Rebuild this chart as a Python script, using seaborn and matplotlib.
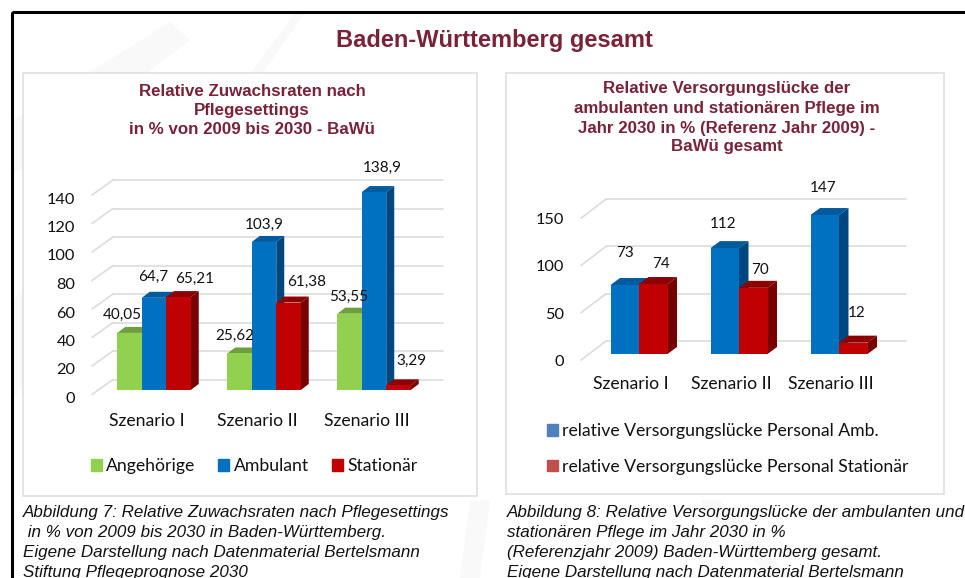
"""Baden-Wuerttemberg care charts: two pseudo-3D bar panels with captions."""
import matplotlib.pyplot as plt
import pandas as pd
import seaborn as sns
from matplotlib.patches import Patch, Polygon, Rectangle
from matplotlib.transforms import Affine2D

W, H = 965, 578

scenarios = ["Szenario I", "Szenario II", "Szenario III"]

angehoerige = [40.05, 25.62, 53.55]
ambulant = [64.7, 103.9, 138.9]
stationaer = [65.21, 61.38, 3.29]
left_ticks = [0, 20, 40, 60, 80, 100, 120, 140]

luecke_amb = [73, 112, 147]
luecke_stat = [74, 70, 12]
right_ticks = [0, 50, 100, 150]

MAROON = "#7A2238"
GREEN, BLUE, RED = "#92D050", "#0070C0", "#C00000"
SHADE = {
    GREEN: ("#6F9E3C", "#6F9E3C"),
    BLUE: ("#005A9E", "#00477F"),
    RED: ("#8E0000", "#780000"),
}
GRID = "#DCDCDC"
LABEL_SIZE = 12.7

sns.set_theme(style="white")
plt.rcParams["font.family"] = ["Lato", "DejaVu Sans"]
ARIAL = ["Liberation Sans", "DejaVu Sans"]

fig = plt.figure(figsize=(W / 100, H / 100), dpi=100)

bg = fig.add_axes([0, 0, 1, 1], zorder=-1)
bg.set_xlim(0, W)
bg.set_ylim(H, 0)
bg.axis("off")


def bars_3d(pos, df, hue_order, colors, ylim, ticks, depth, wall, width, label_off, pads):
    """Seaborn bars plus side/top faces, walls and labels. pos is x0, x1, ybottom, ytop in px."""
    x0, x1, yb, yt = pos
    ax = fig.add_axes([x0 / W, 1 - yb / H, (x1 - x0) / W, (yb - yt) / H])
    ax.patch.set_visible(False)
    sns.barplot(data=df, x="szenario", y="wert", hue="reihe", hue_order=hue_order,
                palette=colors, width=width, gap=0, saturation=1, legend=False,
                linewidth=0, ax=ax)
    ax.set_xlim(-0.5, 2.5)
    ax.set_ylim(*ylim)
    ax.set_xlabel("")
    ax.set_ylabel("")
    sns.despine(ax=ax, left=True, bottom=True)

    # back wall lines and the slanted piece on the left
    dl, dr, up, down = wall
    back = ax.transData + Affine2D().translate(dr, up)
    for v in ticks:
        ax.plot([-0.5, 2.5], [v, v], color=GRID, lw=1.2, transform=back,
                clip_on=False, zorder=0.5)
        ypx = H - yb + v / ylim[1] * (yb - yt)
        ax.plot([x0 - dl, x0 + dr], [ypx - down, ypx + up], color=GRID, lw=1.2,
                transform=Affine2D(), clip_on=False, zorder=0.5)

    # depth faces
    ddx = depth[0] / ((x1 - x0) / 3)
    ddy = depth[1] / ((yb - yt) / (ylim[1] - ylim[0]))
    z = 2
    for i in range(3):
        for cont, col in zip(ax.containers, colors):
            bar = cont[i]
            a, b = bar.get_x(), bar.get_x() + bar.get_width()
            h = bar.get_height()
            top, side = SHADE[col]
            ax.add_patch(Polygon([(a, h), (b, h), (b + ddx, h + ddy), (a + ddx, h + ddy)],
                                 color=top, lw=0, clip_on=False, zorder=z))
            ax.add_patch(Polygon([(b, 0), (b + ddx, ddy), (b + ddx, h + ddy), (b, h)],
                                 color=side, lw=0, clip_on=False, zorder=z))
            bar.set_zorder(z + 0.5)
            z += 1

    # value labels sit off the bars, as in the original
    k = 0
    for cont in ax.containers:
        for bar in cont:
            h = bar.get_height()
            txt = f"{h:g}".replace(".", ",")
            ax.annotate(txt, (bar.get_x() + bar.get_width() / 2, h), xytext=label_off[k],
                        textcoords="offset pixels", ha="center", va="center",
                        fontsize=11, color="#111111", annotation_clip=False, zorder=50)
            k += 1

    ax.set_yticks(ticks)
    ax.set_yticklabels([str(t) for t in ticks], fontsize=11.8, color="#111111")
    ax.set_xticks(range(3))
    ax.set_xticklabels(scenarios, fontsize=LABEL_SIZE, color="#111111")
    ax.tick_params(axis="y", length=0, pad=pads[0])
    ax.tick_params(axis="x", length=0, pad=pads[1])
    for lab in ax.get_yticklabels():
        lab.set_transform(lab.get_transform() + Affine2D().translate(0, pads[2]))
    for lab in ax.get_xticklabels():
        lab.set_transform(lab.get_transform() + Affine2D().translate(pads[3], 0))
    return ax


# faint watermark strokes in the page background
for pts in ([(13, 120), (13, 175), (60, 140), (190, 40), (170, 22)],
            [(250, 73), (262, 73), (305, 13), (295, 13)],
            [(13, 300), (13, 400), (23, 385), (23, 290)],
            [(470, 500), (490, 500), (480, 578), (460, 578)],
            [(700, 500), (720, 500), (790, 578), (770, 578)]):
    bg.add_patch(Polygon(pts, color="#F9F9F9", lw=0, zorder=0))

# frame and panels
bg.add_patch(Rectangle((11.5, 11.5), W + 20, H + 20, fill=False, ec="black", lw=2.2, zorder=1))
bg.add_patch(Rectangle((23, 73), 454, 423, fc="white", ec=GRID, lw=1.1, zorder=1))
bg.add_patch(Rectangle((506, 73), 438, 421, fc="white", ec=GRID, lw=1.1, zorder=1))

bg.text(494.5, 40, "Baden-Württemberg gesamt", family=ARIAL, weight="bold", fontsize=17,
        color=MAROON, ha="center", va="center")

for y, s in zip([91, 110, 130], ["Relative Zuwachsraten nach", "Pflegesettings",
                                 "in % von 2009 bis 2030 - BaWü"]):
    bg.text(252, y, s, family=ARIAL, weight="bold", fontsize=12.2, color=MAROON,
            ha="center", va="center")
for y, s in zip([89, 108, 128, 147], ["Relative Versorgungslücke der",
                                      "ambulanten und stationären Pflege im",
                                      "Jahr 2030 in % (Referenz Jahr 2009) -",
                                      "BaWü gesamt"]):
    bg.text(727, y, s, family=ARIAL, weight="bold", fontsize=12.2, color=MAROON,
            ha="center", va="center")

left_df = pd.DataFrame({
    "szenario": scenarios * 3,
    "reihe": ["Angehörige"] * 3 + ["Ambulant"] * 3 + ["Stationär"] * 3,
    "wert": angehoerige + ambulant + stationaer,
})
right_df = pd.DataFrame({
    "szenario": scenarios * 2,
    "reihe": ["Amb"] * 3 + ["Stat"] * 3,
    "wert": luecke_amb + luecke_stat,
})

left_off = [(-7, 18), (-5, 18), (-1, 17),
            (-1, 21), (0, 17), (8, 24),
            (16, 18), (18, 21), (13, 24)]
ax1 = bars_3d((99, 429, 390, 190.5), left_df, ["Angehörige", "Ambulant", "Stationär"],
              [GREEN, BLUE, RED], (0, 140), left_ticks, (8, 6), (7, 14, 10.5, 4.5), 0.668,
              left_off, (17, 16.5, -7.5, -7))

right_off = [(0, 32), (-2, 24), (-2, 27),
             (8, 20), (7, 18), (3, 30)]
ax2 = bars_3d((589, 889, 354, 212.2), right_df, ["Amb", "Stat"],
              [BLUE, RED], (0, 150), right_ticks, (9.5, 7), (8, 17, 13, 6), 0.57,
              right_off, (18, 16, -6.5, -8))

fig.legend(handles=[Patch(color=GREEN, label="Angehörige"), Patch(color=BLUE, label="Ambulant"),
                    Patch(color=RED, label="Stationär")],
           ncols=3, frameon=False, loc="center", bbox_to_anchor=(254 / W, 1 - 466 / H),
           fontsize=LABEL_SIZE, handlelength=0.62, handleheight=0.62, handletextpad=0.25,
           columnspacing=1.3, labelcolor="#111111")
fig.legend(handles=[Patch(color="#4F81BD", label="relative Versorgungslücke Personal Amb."),
                    Patch(color="#C0504D", label="relative Versorgungslücke Personal Stationär")],
           frameon=False, loc="center left", bbox_to_anchor=(531 / W, 1 - 449 / H),
           fontsize=LABEL_SIZE, handlelength=0.62, handleheight=0.62, handletextpad=0.25,
           labelspacing=1.1, labelcolor="#111111")

# captions
for y, s in zip([513, 533, 553, 572], ["Abbildung 7: Relative Zuwachsraten nach Pflegesettings",
                                       " in % von 2009 bis 2030 in Baden-Württemberg.",
                                       "Eigene Darstellung nach Datenmaterial Bertelsmann",
                                       "Stiftung Pflegeprognose 2030"]):
    bg.text(23, y, s, family=ARIAL, style="italic", fontsize=12.27, color="#111111", va="center")
for y, s in zip([513, 533, 553, 572], ["Abbildung 8: Relative Versorgungslücke der ambulanten und",
                                       "stationären Pflege im Jahr 2030 in %",
                                       "(Referenzjahr 2009) Baden-Württemberg gesamt.",
                                       "Eigene Darstellung nach Datenmaterial Bertelsmann"]):
    bg.text(507, y, s, family=ARIAL, style="italic", fontsize=12.27, color="#111111", va="center")

fig.savefig("out.png", dpi=100)
